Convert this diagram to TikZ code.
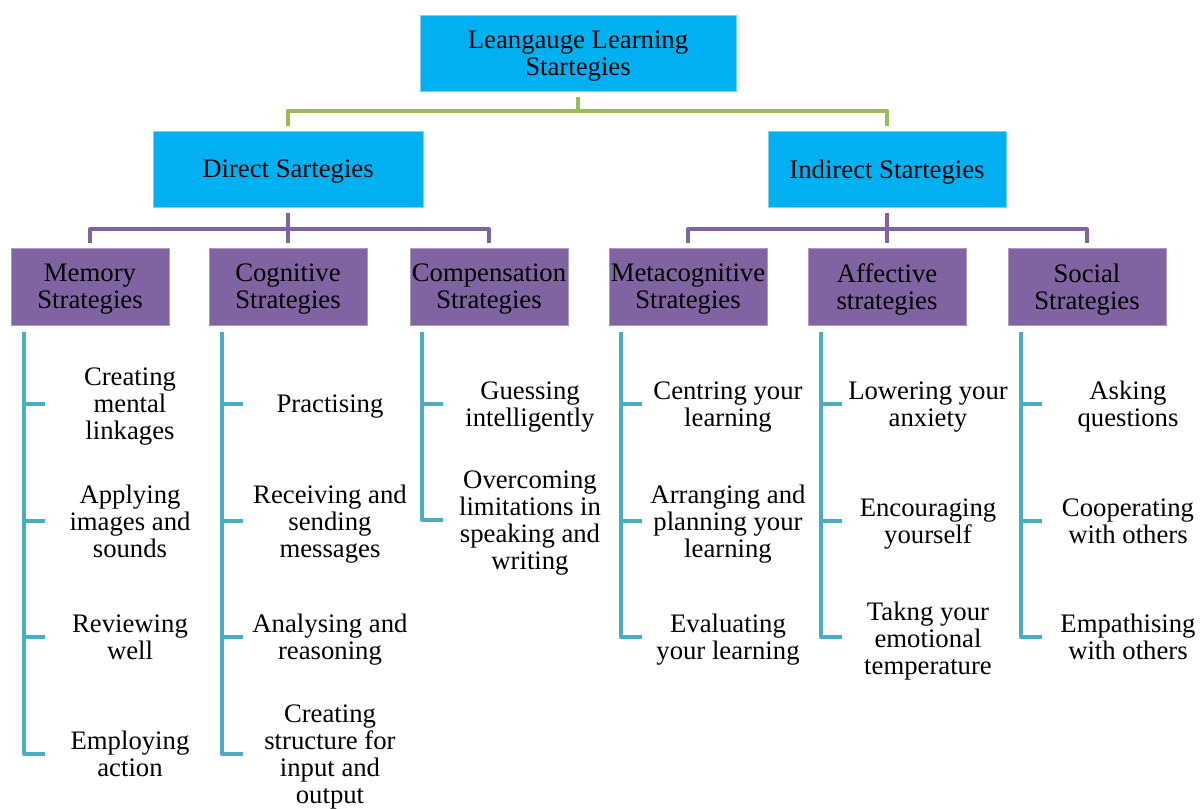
\documentclass[tikz,border=0pt]{standalone}
\usepackage{fontspec}
\setmainfont{Liberation Serif}
\usetikzlibrary{positioning}
\definecolor{cyan1}{HTML}{00B0F0}
\definecolor{purple1}{HTML}{8064A2}
\definecolor{green1}{HTML}{9BBB59}
\definecolor{blue1}{HTML}{4BACC6}

\begin{document}
\begin{tikzpicture}
[x=0.025cm, y=-0.025cm,
mainbox/.style ={rectangle, fill=cyan1, draw=cyan1!55!white, line width=0.4pt,
minimum height=1.9cm, align=center, inner sep=2pt, text depth=0pt},
groupbox/.style ={rectangle, fill=purple1, draw=purple1!65!white, line width=0.4pt,
minimum width=3.95cm, minimum height=1.925cm, align=center, inner sep=1pt, text depth=0pt},
leaftext/.style ={align=center, inner sep=1pt, text depth=0pt},
link/.style ={draw, line width=2.8pt, line join=round, shorten <=0.15cm, shorten >=0.125cm},
rail/.style ={draw=blue1, line width=3.4pt, line join=round}]
\fontsize{19}{19.2}\selectfont
\useasboundingbox (0,0) rectangle (1202,808);

\node [mainbox, minimum width=7.9cm]  (lls) at (578,53)  {Leangauge Learning\\Startegies};
\node [mainbox, minimum width=6.75cm] (ds)  at (288,169) {Direct Sartegies};
\node [mainbox, minimum width=5.95cm] (is)  at (887,169) {Indirect Startegies};

\node [groupbox] (mem) at (90,286.5)   {Memory\\Strategies};
\node [groupbox] (cog) at (288,286.5)  {Cognitive\\Strategies};
\node [groupbox] (com) at (489,286.5)  {Compensation\\Strategies};
\node [groupbox] (met) at (688,286.5)  {Metacognitive\\Strategies};
\node [groupbox] (aff) at (887,286.5)  {Affective\\strategies};
\node [groupbox] (soc) at (1087,286.5) {Social\\Strategies};

\draw [link, green1] (lls.south) -- ++(0,20) -| (ds.north);
\draw [link, green1] (lls.south) -- ++(0,20) -| (is.north);

\draw [link, purple1] (ds.south) -- ++(0,22) -| (mem.north);
\draw [link, purple1] (ds.south) -- ++(0,22) -| (cog.north);
\draw [link, purple1] (ds.south) -- ++(0,22) -| (com.north);
\draw [link, purple1] (is.south) -- ++(0,22) -| (met.north);
\draw [link, purple1] (is.south) -- ++(0,22) -| (aff.north);
\draw [link, purple1] (is.south) -- ++(0,22) -| (soc.north);

% memory
\node [leaftext] (m1) at (130,404) {Creating\\mental\\linkages};
\node [leaftext] (m2) at (130,521) {Applying\\images and\\sounds};
\node [leaftext] (m3) at (130,637) {Reviewing\\well};
\node [leaftext] (m4) at (130,754) {Employing\\action};
% cognitive
\node [leaftext] (c1) at (330,404) {Practising};
\node [leaftext] (c2) at (330,521) {Receiving and\\sending\\messages};
\node [leaftext] (c3) at (330,637) {Analysing and\\reasoning};
\node [leaftext] (c4) at (330,754) {Creating\\structure for\\input and\\output};
% compensation
\node [leaftext] (p1) at (530,404) {Guessing\\intelligently};
\node [leaftext] (p2) at (530,520) {Overcoming\\limitations in\\speaking and\\writing};
% metacognitive
\node [leaftext] (t1) at (728,404) {Centring your\\learning};
\node [leaftext] (t2) at (728,521) {Arranging and\\planning your\\learning};
\node [leaftext] (t3) at (728,637) {Evaluating\\your learning};
% affective
\node [leaftext] (a1) at (928,404) {Lowering your\\anxiety};
\node [leaftext] (a2) at (928,521) {Encouraging\\yourself};
\node [leaftext] (a3) at (928,638) {Takng your\\emotional\\temperature};
% social
\node [leaftext] (s1) at (1128,404) {Asking\\questions};
\node [leaftext] (s2) at (1128,521) {Cooperating\\with others};
\node [leaftext] (s3) at (1128,637) {Empathising\\with others};

% tick ends
\coordinate (m1e) at (45,404);  \coordinate (m2e) at (45,521);
\coordinate (m3e) at (45,637);  \coordinate (m4e) at (45,754);
\coordinate (c1e) at (243,404); \coordinate (c2e) at (243,521);
\coordinate (c3e) at (243,637); \coordinate (c4e) at (243,754);
\coordinate (p1e) at (443,404); \coordinate (p2e) at (443,520);
\coordinate (t1e) at (642,404); \coordinate (t2e) at (642,521);
\coordinate (t3e) at (642,637);
\coordinate (a1e) at (842,404); \coordinate (a2e) at (842,521);
\coordinate (a3e) at (842,637);
\coordinate (s1e) at (1042,404); \coordinate (s2e) at (1042,521);
\coordinate (s3e) at (1042,637);

\draw [rail] (mem.south) ++(-66,7) |- (m1e);
\draw [rail] (mem.south) ++(-66,7) |- (m2e);
\draw [rail] (mem.south) ++(-66,7) |- (m3e);
\draw [rail] (mem.south) ++(-66,7) |- (m4e);

\draw [rail] (cog.south) ++(-66,7) |- (c1e);
\draw [rail] (cog.south) ++(-66,7) |- (c2e);
\draw [rail] (cog.south) ++(-66,7) |- (c3e);
\draw [rail] (cog.south) ++(-66,7) |- (c4e);

\draw [rail] (com.south) ++(-67,7) |- (p1e);
\draw [rail] (com.south) ++(-67,7) |- (p2e);

\draw [rail] (met.south) ++(-67,7) |- (t1e);
\draw [rail] (met.south) ++(-67,7) |- (t2e);
\draw [rail] (met.south) ++(-67,7) |- (t3e);

\draw [rail] (aff.south) ++(-66,7) |- (a1e);
\draw [rail] (aff.south) ++(-66,7) |- (a2e);
\draw [rail] (aff.south) ++(-66,7) |- (a3e);

\draw [rail] (soc.south) ++(-66,7) |- (s1e);
\draw [rail] (soc.south) ++(-66,7) |- (s2e);
\draw [rail] (soc.south) ++(-66,7) |- (s3e);

\end{tikzpicture}
\end{document}
